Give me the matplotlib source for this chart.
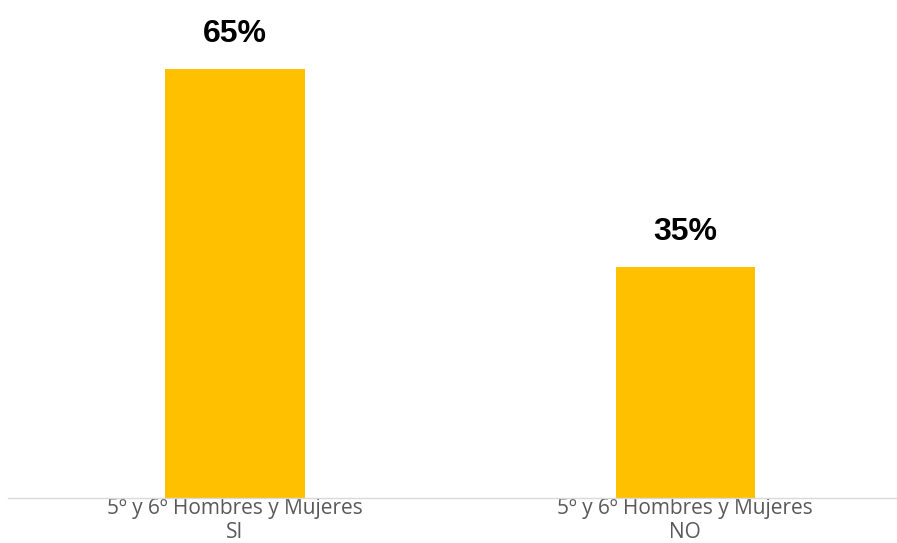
import matplotlib.pyplot as plt

# -----------------------
# Data
# -----------------------
categories = ["5º y 6º Hombres y Mujeres\nSI", "5º y 6º Hombres y Mujeres\nNO"]
values = [65, 35]
value_labels = ["65%", "35%"]

# -----------------------
# Figure layout
# -----------------------
plt.rcParams["font.family"] = ["Liberation Sans", "DejaVu Sans"]
fig = plt.figure(figsize=(8.97, 5.43), dpi=100)
ax = fig.add_axes([0.009, 0.0829, 0.991, 0.9171])

x = list(range(len(categories)))
bars = ax.bar(x, values, width=0.31, color="#FFC000", zorder=2)

for b, lab in zip(bars, value_labels):
    ax.annotate(lab, (b.get_x() + b.get_width() / 2, b.get_height()),
                xytext=(0, 25), textcoords="offset points",
                ha="center", va="center", fontsize=23, fontweight="bold",
                color="black")

ax.set_xlim(-0.504, 1.47)
ax.set_ylim(0, 75.4)
ax.set_xticks(x)
ax.set_xticklabels(categories, fontsize=15, color="#595959",
                   linespacing=1.2, family=["Open Sans", "DejaVu Sans"])
ax.tick_params(axis="x", length=0, pad=0)
ax.set_yticks([])

for s in ["top", "right", "left"]:
    ax.spines[s].set_visible(False)
ax.spines["bottom"].set_color("#D9D9D9")
ax.spines["bottom"].set_linewidth(1.0)

fig.savefig("out.png", dpi=100)
